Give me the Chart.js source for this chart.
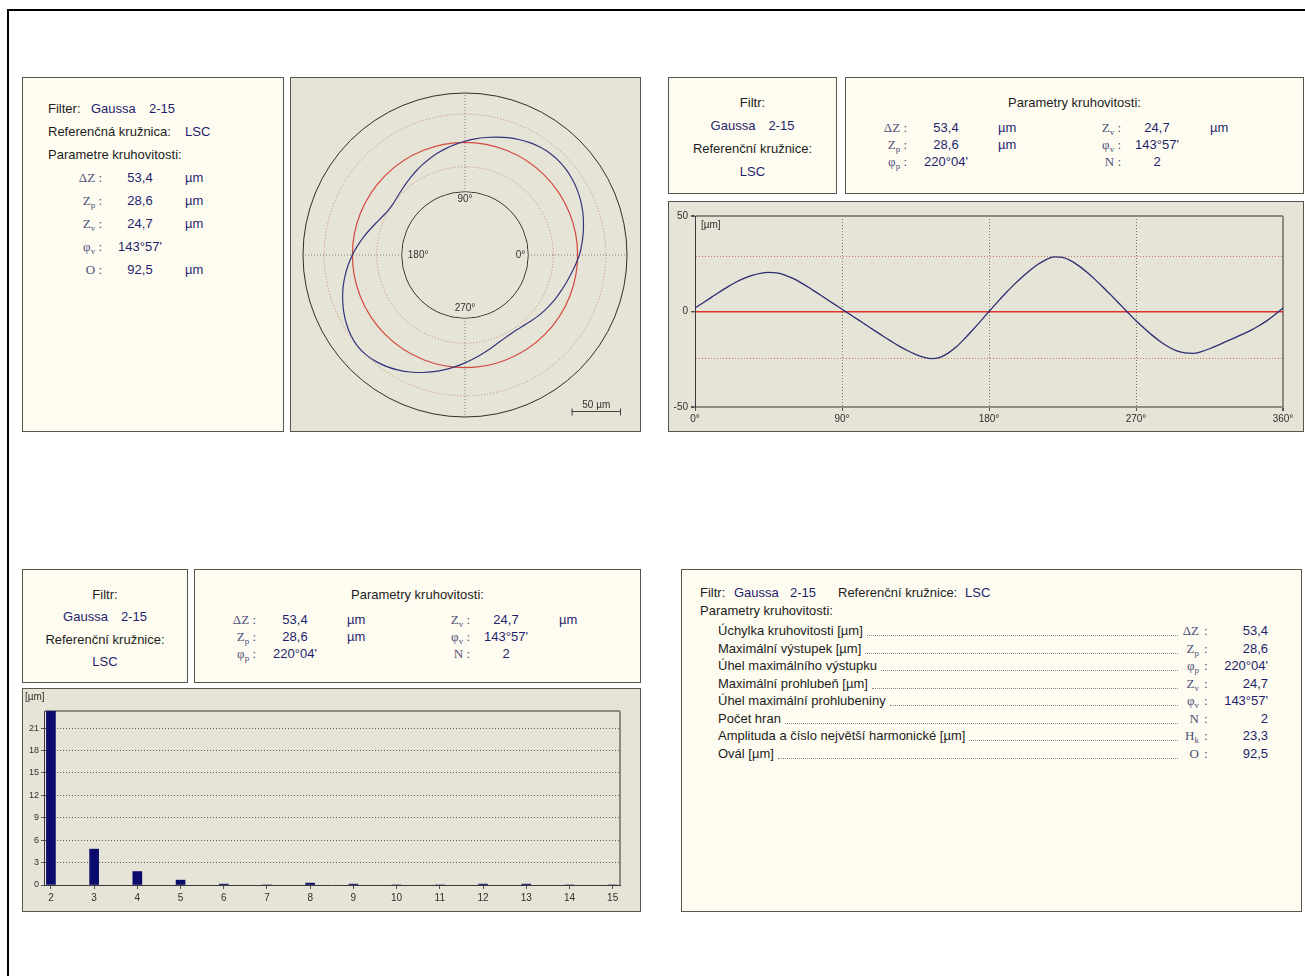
<!DOCTYPE html>
<html>
<head>
<meta charset="utf-8">
<title>Kruhovitost – protokol</title>
<script src="https://cdn.jsdelivr.net/npm/chart.js@4/dist/chart.umd.min.js"></script>
<style>
html, body { margin: 0; padding: 0; background: #fff; }
body { width: 1305px; height: 976px; position: relative; overflow: hidden;
       font-family: "Liberation Sans", Arial, sans-serif; }
.frame { position: absolute; left: 7px; top: 9px; width: 1310px; height: 980px;
         border-top: 2px solid #000; border-left: 2px solid #000; }
.panel { position: absolute; box-sizing: border-box; border: 1px solid #57554c; }
.txt { background: #fefcf0; }
.plot { background: #e5e4d6; }
.t { position: absolute; white-space: nowrap; font-size: 13px; line-height: 16px; color: #1d1d1d; }
.v { color: #1f1f6e; }
.s { font-family: "Liberation Serif", "Times New Roman", serif; color: #4f4f78; }
.s sub { font-size: 9px; vertical-align: -3px; line-height: 0; }
.row { display: flex; }
.lead { flex: 1; height: 12px; border-bottom: 1px dotted #8a8a8a; margin: 0 2px 0 4px; }
canvas { position: absolute; }
</style>
</head>
<body>
<div class="frame"></div>

<div class="panel txt"  style="left:22px;  top:77px;  width:262px; height:355px;"></div>
<div class="panel plot" style="left:290px; top:77px;  width:351px; height:355px;"></div>
<div class="panel txt"  style="left:668px; top:77px;  width:169px; height:117px;"></div>
<div class="panel txt"  style="left:845px; top:77px;  width:459px; height:117px;"></div>
<div class="panel plot" style="left:668px; top:201px; width:636px; height:231px;"></div>
<div class="panel txt"  style="left:22px;  top:569px; width:166px; height:114px;"></div>
<div class="panel txt"  style="left:194px; top:569px; width:447px; height:114px;"></div>
<div class="panel plot" style="left:22px;  top:688px; width:619px; height:224px;"></div>
<div class="panel txt"  style="left:681px; top:569px; width:621px; height:343px;"></div>

<canvas id="polar" width="340" height="340" style="left:295px; top:85px;"></canvas>
<canvas id="wave"  width="633" height="229" style="left:669px; top:202px;"></canvas>
<canvas id="harm"  width="617" height="222" style="left:23px;  top:689px;"></canvas>

<script>
// Deviation of the measured profile from the LSC reference circle [µm], every 5°
const profileDeg = [0, 5, 10, 15, 20, 25, 30, 35, 40, 45, 50, 55, 60, 65, 70, 75, 80, 85,
  90, 95, 100, 105, 110, 115, 120, 125, 130, 135, 140, 145, 150, 155, 160, 165, 170, 175,
  180, 185, 190, 195, 200, 205, 210, 215, 220, 225, 230, 235, 240, 245, 250, 255, 260, 265,
  270, 275, 280, 285, 290, 295, 300, 305, 310, 315, 320, 325, 330, 335, 340, 345, 350, 355, 360];
const profileDev = [1.8, 4.6, 7.4, 10.2, 12.9, 15.3, 17.3, 18.9, 20.0, 20.5, 20.2, 19.1,
  17.3, 15.0, 12.4, 9.6, 6.8, 4.0, 1.2, -1.6, -4.4, -7.2, -10.0, -12.8, -15.5, -18.1, -20.4,
  -22.4, -23.9, -24.7, -24.0, -21.8, -18.5, -14.3, -9.7, -4.9, 0.0, 4.8, 9.4, 13.8, 17.8,
  21.5, 24.7, 27.2, 28.6, 28.3, 26.6, 23.9, 20.5, 16.7, 12.6, 8.3, 3.9, -0.5, -4.8, -8.8,
  -12.5, -15.8, -18.6, -20.6, -21.7, -21.9, -21.0, -19.5, -17.7, -15.8, -13.9, -12.0,
  -10.0, -7.6, -4.9, -1.7, 1.8];

// Harmonic analysis: order and amplitude [µm]
const harmonicOrder = [2, 3, 4, 5, 6, 7, 8, 9, 10, 11, 12, 13, 14, 15];
const harmonicAmp   = [23.3, 4.8, 1.8, 0.65, 0.12, 0, 0.25, 0.12, 0, 0, 0.12, 0.12, 0, 0];

// Tick labels
const angleTicks = [0, 90, 180, 270, 360];
const devTicks   = [-50, 0, 50];
const ampTicks   = [0, 3, 6, 9, 12, 15, 18, 21];

// Roundness parameters
const deltaZ = 53.4;
const zP = 28.6;
const zV = 24.7;
const oval = 92.5;
const edgeCount = 2;
const phiP = [220, 4];
const phiV = [143, 57];
const hK = harmonicAmp[0];

const fmt = v => v.toFixed(1).replace('.', ',');
const ang = a => a[0] + '°' + String(a[1]).padStart(2, '0') + "'";

const SYM = {
  dZ: 'ΔZ', zp: 'Z<sub>p</sub>', zv: 'Z<sub>v</sub>', pp: 'φ<sub>p</sub>',
  pv: 'φ<sub>v</sub>', n: 'N', o: 'O', hk: 'H<sub>k</sub>'
};

function put(x, y, html, cls, align) {
  const d = document.createElement('div');
  d.className = 't' + (cls ? ' ' + cls : '');
  d.innerHTML = html;
  d.style.top = (y - 8) + 'px';
  if (align === 'c') { d.style.left = x + 'px'; d.style.transform = 'translateX(-50%)'; }
  else if (align === 'r') { d.style.right = (1305 - x) + 'px'; }
  else { d.style.left = x + 'px'; }
  document.body.appendChild(d);
  return d;
}

// --- top-left summary (Slovak) ---
put(48, 109, 'Filter:');
put(91, 109, 'Gaussa', 'v');
put(149, 109, '2-15', 'v');
put(48, 132, 'Referenčná kružnica:');
put(185, 132, 'LSC', 'v');
put(48, 155, 'Parametre kruhovitosti:');
[[SYM.dZ, fmt(deltaZ), 'µm'], [SYM.zp, fmt(zP), 'µm'], [SYM.zv, fmt(zV), 'µm'],
 [SYM.pv, ang(phiV), ''], [SYM.o, fmt(oval), 'µm']].forEach((r, i) => {
  const y = 178 + 23 * i;
  put(102, y, r[0] + '&nbsp;:', 's', 'r');
  put(140, y, r[1], 'v', 'c');
  if (r[2]) put(185, y, r[2], 'v');
});

// --- filter / reference boxes ---
function filterBox(left, width, top, step) {
  const cx = left + width / 2;
  put(cx, top + 26, 'Filtr:', '', 'c');
  put(cx, top + 26 + step, '<span class="v">Gaussa</span><span class="v" style="margin-left:13px">2-15</span>', '', 'c');
  put(cx, top + 26 + 2 * step, 'Referenční kružnice:', '', 'c');
  put(cx, top + 26 + 3 * step, 'LSC', 'v', 'c');
}
filterBox(668, 169, 77, 23);
filterBox(22, 166, 569, 22.3);

// --- parameter boxes ---
function paramBox(left, width, top) {
  put(left + width / 2, top + 26, 'Parametry kruhovitosti:', '', 'c');
  const rowsL = [[SYM.dZ, fmt(deltaZ), 'µm'], [SYM.zp, fmt(zP), 'µm'], [SYM.pp, ang(phiP), '']];
  const rowsR = [[SYM.zv, fmt(zV), 'µm'], [SYM.pv, ang(phiV), ''], [SYM.n, String(edgeCount), '']];
  for (let i = 0; i < 3; i++) {
    const y = top + 51 + 17 * i;
    put(left + 62, y, rowsL[i][0] + '&nbsp;:', 's', 'r');
    put(left + 101, y, rowsL[i][1], 'v', 'c');
    if (rowsL[i][2]) put(left + 153, y, rowsL[i][2], 'v');
    put(left + 276, y, rowsR[i][0] + '&nbsp;:', 's', 'r');
    put(left + 312, y, rowsR[i][1], 'v', 'c');
    if (rowsR[i][2]) put(left + 365, y, rowsR[i][2], 'v');
  }
}
paramBox(845, 459, 77);
paramBox(194, 447, 569);

// --- detailed parameter list ---
put(700, 593, 'Filtr:');
put(734, 593, 'Gaussa', 'v');
put(790, 593, '2-15', 'v');
put(838, 593, 'Referenční kružnice:');
put(965, 593, 'LSC', 'v');
put(700, 611, 'Parametry kruhovitosti:');
[['Úchylka kruhovitosti [µm]', SYM.dZ, fmt(deltaZ)],
 ['Maximální výstupek [µm]', SYM.zp, fmt(zP)],
 ['Úhel maximálního výstupku', SYM.pp, ang(phiP)],
 ['Maximální prohlubeň [µm]', SYM.zv, fmt(zV)],
 ['Úhel maximální prohlubeniny', SYM.pv, ang(phiV)],
 ['Počet hran', SYM.n, String(edgeCount)],
 ['Amplituda a číslo největší harmonické [µm]', SYM.hk, fmt(hK)],
 ['Ovál [µm]', SYM.o, fmt(oval)]].forEach((r, i) => {
  const y = 631 + 17.5 * i;
  const d = put(718, y, '<span>' + r[0] + '</span><span class="lead"></span>', 'row');
  d.style.width = '462px';
  put(1199, y, r[1], 's', 'r');
  put(1204, y, ':', 's');
  put(1268, y, r[2], 'v', 'r');
});

// --- charts ---
Chart.defaults.font.family = '"Liberation Sans", Arial, sans-serif';
const axisText = '#303030';
const frameGray = '#8c8a80';
const clear = 'rgba(0,0,0,0)';
const plotBg = '#e5e4d6';

const unitLabel = {
  id: 'unitLabel',
  afterDraw(chart, args, opts) {
    const { ctx, chartArea } = chart;
    ctx.save();
    ctx.font = '10px "Liberation Sans", Arial, sans-serif';
    ctx.fillStyle = axisText;
    ctx.textBaseline = 'middle';
    ctx.fillText('[µm]', chartArea.left + opts.dx, chartArea.top + opts.dy);
    ctx.restore();
  }
};

// polar profile: 0° on the right, angles counter-clockwise
const radarLabels = [];
const radarDev = [];
for (let j = 0; j < profileDeg.length - 1; j++) {
  const k = (profileDeg.length - 1 - j) % (profileDeg.length - 1);
  radarLabels.push(profileDeg[k] + '°');
  radarDev.push(profileDev[k]);
}
const quarter = (profileDeg.length - 1) / 4;

const polarDecor = {
  id: 'polarDecor',
  beforeDatasetsDraw(chart) {
    const s = chart.scales.r;
    const ctx = chart.ctx;
    const R = s.getDistanceFromCenterForValue(-50);
    ctx.save();
    ctx.beginPath();
    ctx.arc(s.xCenter, s.yCenter, R - 0.8, 0, Math.PI * 2);
    ctx.fillStyle = plotBg;
    ctx.fill();
    ctx.font = '10px "Liberation Sans", Arial, sans-serif';
    ctx.fillStyle = '#333';
    ctx.textAlign = 'right'; ctx.textBaseline = 'middle';
    ctx.fillText('0°', s.xCenter + R - 3, s.yCenter);
    ctx.textAlign = 'left';
    ctx.fillText('180°', s.xCenter - R + 6, s.yCenter);
    ctx.textAlign = 'center'; ctx.textBaseline = 'top';
    ctx.fillText('90°', s.xCenter, s.yCenter - R + 2);
    ctx.textBaseline = 'bottom';
    ctx.fillText('270°', s.xCenter, s.yCenter + R - 5);
    ctx.restore();
  },
  afterDraw(chart) {
    const s = chart.scales.r;
    const ctx = chart.ctx;
    const len = s.getDistanceFromCenterForValue(50) - s.getDistanceFromCenterForValue(0);
    const xr = s.xCenter + 156, y = s.yCenter + 156.5;
    ctx.save();
    ctx.strokeStyle = '#444'; ctx.lineWidth = 1;
    ctx.beginPath();
    ctx.moveTo(xr - len, y); ctx.lineTo(xr, y);
    ctx.moveTo(xr - len + 0.5, y - 3); ctx.lineTo(xr - len + 0.5, y + 4);
    ctx.moveTo(xr - 0.5, y - 3); ctx.lineTo(xr - 0.5, y + 4);
    ctx.stroke();
    ctx.font = '10px "Liberation Sans", Arial, sans-serif';
    ctx.fillStyle = '#333';
    ctx.textAlign = 'center'; ctx.textBaseline = 'bottom';
    ctx.fillText('50 µm', xr - len / 2, y - 1);
    ctx.restore();
  }
};

new Chart(document.getElementById('polar'), {
  type: 'radar',
  data: {
    labels: radarLabels,
    datasets: [{
      data: radarDev, borderColor: '#34347e', borderWidth: 1.2,
      pointRadius: 0, fill: false, tension: 0.2
    }]
  },
  options: {
    animation: false, responsive: false,
    layout: { padding: 8 },
    plugins: { legend: { display: false }, tooltip: { enabled: false } },
    scales: {
      r: {
        min: -114, max: 50, startAngle: 90,
        afterBuildTicks: s => { s.ticks = [-114, -50, -zV, 0, zP, 50].map(v => ({ value: v })); },
        ticks: { display: false },
        pointLabels: { display: false },
        grid: {
          circular: true,
          color: c => {
            const v = c.tick ? c.tick.value : null;
            if (v === 50 || v === -50) return '#2e2e2e';
            if (v === 0) return '#d4483e';
            if (v === zP || v === -zV) return '#c9806c';
            return clear;
          },
          lineWidth: c => (c.tick && c.tick.value === 0 ? 1.2 : 1)
        },
        border: {
          dash: c => {
            const v = c.tick ? c.tick.value : null;
            return (v === zP || v === -zV) ? [1, 2] : [];
          }
        },
        angleLines: {
          color: c => (c.index % quarter === 0 ? '#858278' : clear),
          lineWidth: c => (c.index % quarter === 0 ? 1 : 0),
          borderDash: [1, 2]
        }
      }
    }
  },
  plugins: [polarDecor]
});

// deviation profile over the angle
new Chart(document.getElementById('wave'), {
  type: 'line',
  data: {
    datasets: [{
      data: profileDeg.map((d, i) => ({ x: d, y: profileDev[i] })),
      borderColor: '#2c2c72', borderWidth: 1.3, pointRadius: 0,
      cubicInterpolationMode: 'monotone', fill: false
    }]
  },
  options: {
    animation: false, responsive: false,
    layout: { padding: { left: 0, right: 19, top: 14, bottom: 0 } },
    plugins: { legend: { display: false }, tooltip: { enabled: false }, unitLabel: { dx: 6, dy: 9 } },
    scales: {
      x: {
        type: 'linear', min: 0, max: 360,
        afterBuildTicks: s => { s.ticks = angleTicks.map(v => ({ value: v })); },
        afterFit: s => { s.height = 24; },
        ticks: { autoSkip: false, maxRotation: 0, padding: 2, color: axisText,
                 font: { size: 10 }, callback: v => v + '°' },
        grid: {
          tickLength: 4, tickColor: '#555',
          color: c => {
            const v = c.tick ? c.tick.value : null;
            if (v === 360) return frameGray;
            if (v === 0 || v === null) return clear;
            return '#77756c';
          },
          lineWidth: c => (c.tick && c.tick.value === 360 ? 2 : 1)
        },
        border: {
          color: frameGray, width: 2,
          dash: c => (c.tick && c.tick.value > 0 && c.tick.value < 360 ? [1, 2] : [])
        }
      },
      y: {
        min: -50, max: 50,
        afterBuildTicks: s => { s.ticks = [-50, -zV, 0, zP, 50].map(v => ({ value: v })); },
        afterFit: s => { s.width = 26; },
        ticks: { autoSkip: false, padding: 3, color: axisText, font: { size: 10 },
                 callback: v => (devTicks.includes(v) ? String(v) : '') },
        grid: {
          tickLength: 4,
          tickColor: c => (c.tick && devTicks.includes(c.tick.value) ? '#555' : clear),
          color: c => {
            const v = c.tick ? c.tick.value : null;
            if (v === 0) return '#e2302a';
            if (v === 50 || v === -50) return frameGray;
            if (v === zP || v === -zV) return '#d27462';
            return clear;
          },
          lineWidth: c => {
            const v = c.tick ? c.tick.value : null;
            if (v === 50 || v === -50) return 2;
            if (v === 0) return 1.4;
            return 1;
          }
        },
        border: {
          color: '#3a3a3a', width: 1,
          dash: c => (c.tick && (c.tick.value === zP || c.tick.value === -zV) ? [1, 2] : [])
        }
      }
    }
  },
  plugins: [unitLabel]
});

// amplitudes of the harmonics
const xMin = 1.84, xMax = 15.17;
new Chart(document.getElementById('harm'), {
  type: 'bar',
  data: {
    datasets: [{
      data: harmonicOrder.map((h, i) => ({ x: h, y: harmonicAmp[i] })),
      backgroundColor: '#0b0b6c', borderWidth: 0, barThickness: 9
    }]
  },
  options: {
    animation: false, responsive: false,
    layout: { padding: { left: 0, right: 20, top: 22, bottom: 0 } },
    plugins: { legend: { display: false }, tooltip: { enabled: false }, unitLabel: { dx: -19, dy: -14 } },
    scales: {
      x: {
        type: 'linear', min: xMin, max: xMax, offset: false,
        afterBuildTicks: s => { s.ticks = harmonicOrder.concat([xMax]).map(v => ({ value: v })); },
        afterFit: s => { s.height = 26; },
        ticks: { autoSkip: false, maxRotation: 0, padding: 3, color: axisText, font: { size: 10 },
                 callback: v => (harmonicOrder.includes(v) ? String(v) : '') },
        grid: {
          offset: false, tickLength: 4,
          tickColor: c => (c.tick && harmonicOrder.includes(c.tick.value) ? '#555' : clear),
          color: c => (c.tick && c.tick.value === xMax ? frameGray : clear),
          lineWidth: c => (c.tick && c.tick.value === xMax ? 2 : 1)
        },
        border: { color: '#3a3a3a', width: 1 }
      },
      y: {
        min: 0, max: hK,
        afterBuildTicks: s => { s.ticks = ampTicks.concat([hK]).map(v => ({ value: v })); },
        afterFit: s => { s.width = 21; },
        ticks: { autoSkip: false, padding: 2, color: axisText, font: { size: 9 },
                 callback: v => (ampTicks.includes(v) ? String(v) : '') },
        grid: {
          tickLength: 3,
          tickColor: c => (c.tick && ampTicks.includes(c.tick.value) ? '#555' : clear),
          color: c => {
            const v = c.tick ? c.tick.value : null;
            if (v === hK) return frameGray;
            if (v === 0 || v === null) return clear;
            return '#5c5c5c';
          },
          lineWidth: c => (c.tick && c.tick.value === hK ? 2 : 1)
        },
        border: {
          color: '#3a3a3a', width: 1,
          dash: c => (c.tick && c.tick.value > 0 && c.tick.value < hK ? [1, 2] : [])
        }
      }
    }
  },
  plugins: [unitLabel]
});
</script>
</body>
</html>
